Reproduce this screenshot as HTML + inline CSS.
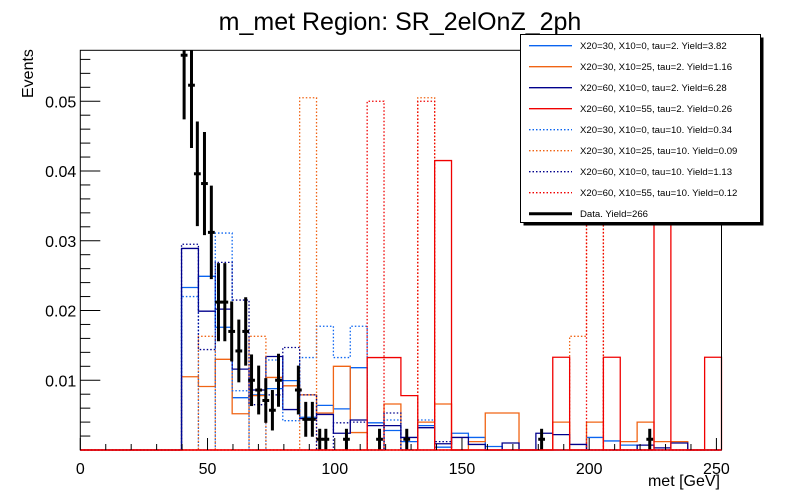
<!DOCTYPE html>
<html><head><meta charset="utf-8">
<style>
html,body{margin:0;padding:0;background:#fff;}
svg{display:block;font-family:"Liberation Sans",Arial,sans-serif;}
</style></head>
<body>
<svg id="chart" width="800" height="500" viewBox="0 0 800 500" xmlns="http://www.w3.org/2000/svg">
<rect x="0" y="0" width="800" height="500" fill="#fff"/>
<text x="400" y="30" font-size="25" text-anchor="middle">m_met Region: SR_2elOnZ_2ph</text>
<g id="plot"></g>
<g id="axes"></g>
<text x="720" y="486" font-size="16" text-anchor="end">met [GeV]</text>
<text transform="translate(33,98) rotate(-90)" font-size="16" text-anchor="start">Events</text>
<g id="legend"></g>
</svg>
<script>
// ---- data ----
const binWidth = 252/38;
const xTicks = [0,50,100,150,200,250];
const yTicks = [0.01,0.02,0.03,0.04,0.05];
const yTickLabels = ["0.01","0.02","0.03","0.04","0.05"];
function z(){return new Array(38).fill(0);}
function fill(o){const a=z();for(const k in o)a[+k]=o[k];return a;}
const blueTau2 = fill({6:0.0233,7:0.0249,8:0.0176,9:0.0075,10:0.0079,11:0.0088,12:0.00995,13:0.0047,14:0.0064,15:0.0059,16:0.0118,17:0.0039,18:0.0028,19:0.0012,20:0.0035,21:0.0004,22:0.0024,23:0.0018,24:0.0005,30:0.0018,31:0.0013,32:0.0007});
const orangeTau2 = fill({6:0.0105,7:0.0091,8:0.0130,9:0.0052,10:0.0078,11:0.0104,12:0.0092,13:0.0079,14:0.0053,15:0.0120,16:0.0025,18:0.0066,20:0.0040,21:0.0066,23:0.0012,24:0.0053,25:0.0053,28:0.0040,30:0.0040,32:0.0012,33:0.0040,34:0.0012,35:0.0012});
const navyTau2 = fill({6:0.0289,7:0.0199,8:0.0202,9:0.0116,10:0.0086,11:0.0134,12:0.0058,13:0.0045,14:0.0051,15:0.0024,16:0.0043,17:0.0035,18:0.0035,19:0.0018,20:0.0032,21:0.0009,22:0.0018,23:0.0008,25:0.0010,27:0.0024,28:0.0022,29:0.0008,33:0.0007,34:0.0003,35:0.0010});
const redTau2 = fill({17:0.01325,18:0.01325,19:0.0078,21:0.0415,28:0.0133,31:0.0133,34:0.045,37:0.0133});
const blueTau10 = fill({6:0.0220,8:0.0311,9:0.0085,11:0.0129,12:0.0042,13:0.01325,14:0.01774,15:0.01325,16:0.01774,18:0.0043,20:0.0043});
const orangeTau10 = fill({7:0.0163,10:0.0163,13:0.0505,20:0.0505,29:0.0163,30:0.050});
const navyTau10 = fill({6:0.0295,7:0.0144,8:0.0269,9:0.0215,10:0.0065,11:0.0079,12:0.0147,13:0.0079,15:0.0039,16:0.0040,18:0.0053,21:0.0012});
const redTau10 = fill({17:0.0500,20:0.0500,30:0.050});
const dataX = [40.8,43.7,46.0,48.8,51.5,54.3,56.8,59.5,62.3,65.0,67.3,70.1,72.9,75.5,77.9,85.7,88.6,91.2,94.1,96.5,104.6,117.6,128.3,181.3,223.8];
const dataY = [0.0566,0.0523,0.0396,0.0382,0.0312,0.0212,0.0212,0.0170,0.0142,0.0170,0.0100,0.0086,0.0071,0.0057,0.0100,0.0086,0.0044,0.0044,0.00154,0.00154,0.00154,0.00154,0.00154,0.00154,0.00154];
const dataErr = [0.0092,0.0090,0.0075,0.0074,0.0067,0.0056,0.0056,0.0043,0.0045,0.0049,0.0037,0.0035,0.0032,0.0029,0.0038,0.0035,0.0025,0.0025,0.0015,0.0015,0.0015,0.0015,0.0015,0.0015,0.0015];
const legendLabels = ["X20=30, X10=0, tau=2. Yield=3.82","X20=30, X10=25, tau=2. Yield=1.16","X20=60, X10=0, tau=2. Yield=6.28","X20=60, X10=55, tau=2. Yield=0.26","X20=30, X10=0, tau=10. Yield=0.34","X20=30, X10=25, tau=10. Yield=0.09","X20=60, X10=0, tau=10. Yield=1.13","X20=60, X10=55, tau=10. Yield=0.12","Data. Yield=266"];

// ---- axes ----
const X0=80.3, X1=721.5, Y0=450, YT=50.3;
const xs = v => X0 + v*(X1-X0)/252;
const ys = v => Y0 - v*6975;
const NS="http://www.w3.org/2000/svg";
function mk(tag,attrs,parent){const e=document.createElementNS(NS,tag);for(const k in attrs)e.setAttribute(k,attrs[k]);parent.appendChild(e);return e;}
const plot=document.getElementById('plot'), axes=document.getElementById('axes'), leg=document.getElementById('legend');

const series = [
 {d:blueTau2,c:"#0a64f0",dash:null,n:"blue-tau2"},
 {d:orangeTau2,c:"#f06414",dash:null,n:"orange-tau2"},
 {d:navyTau2,c:"#00008c",dash:null,n:"navy-tau2"},
 {d:blueTau10,c:"#0a64f0",dash:"1.5,2",n:"blue-tau10"},
 {d:orangeTau10,c:"#f06414",dash:"1.5,2",n:"orange-tau10"},
 {d:navyTau10,c:"#00008c",dash:"1.5,2",n:"navy-tau10"},
 {d:redTau10,c:"#f00000",dash:"1.5,2",n:"red-tau10"},
 {d:redTau2,c:"#f00000",dash:null,n:"red-tau2"}
];
for(const s of series){
  let p="M"+xs(0)+","+ys(0);
  for(let i=0;i<38;i++){
    const v=Math.min(s.d[i],0.0576);
    p+=" L"+xs(i*binWidth)+","+ys(v)+" L"+xs((i+1)*binWidth)+","+ys(v);
  }
  p+=" L"+xs(252)+","+ys(0);
  const e=mk('path',{d:p,fill:"none",stroke:s.c,"stroke-width":1.3},plot);
  if(s.dash)e.setAttribute('stroke-dasharray',s.dash);
  
  
}
for(let i=0;i<dataX.length;i++){
  const g=mk('g',{},plot);
  
  
  const x=xs(dataX[i]), y=ys(dataY[i]);
  mk('line',{x1:x,x2:x,y1:Math.max(ys(dataY[i]+dataErr[i]),YT),y2:ys(Math.max(dataY[i]-dataErr[i],0)),stroke:"#000","stroke-width":3},g);
  mk('line',{x1:xs(dataX[i]-1.33),x2:xs(dataX[i]+1.33),y1:y,y2:y,stroke:"#000","stroke-width":3},g);
}
// frame
const fr=mk('rect',{x:X0,y:YT,width:X1-X0,height:Y0-YT,fill:"none",stroke:"#000","stroke-width":1},axes);


mk('line',{x1:X0,x2:X1,y1:Y0,y2:Y0,stroke:"#f00000","stroke-width":1.5},axes);
// x ticks
for(let v=0;v<=250;v+=10){
  const major=v%50===0;
  mk('line',{x1:xs(v),x2:xs(v),y1:Y0,y2:Y0-(major?12:6),stroke:"#000","stroke-width":1},axes);
}
for(const v of xTicks){
  const t=mk('text',{x:xs(v),y:Y0+24,"font-size":16,"text-anchor":"middle"},axes);
  t.textContent=v;
  
  
}
// y ticks
for(let k=1;k<=28;k++){
  const v=k*0.002, major=k%5===0;
  mk('line',{x1:X0,x2:X0+(major?20:10),y1:ys(v),y2:ys(v),stroke:"#000","stroke-width":1},axes);
}
yTicks.forEach((v,i)=>{
  const t=mk('text',{x:X0-4,y:ys(v)+6,"font-size":16,"text-anchor":"end"},axes);
  t.textContent=yTickLabels[i];
  
  
});
// legend
mk('rect',{x:523.5,y:37.5,width:240,height:188,fill:"#000"},leg);
mk('rect',{x:520.5,y:34.5,width:240,height:188,fill:"#fff",stroke:"#000","stroke-width":1},leg);
const legStyles=[["#0a64f0",null,1.3],["#f06414",null,1.3],["#00008c",null,1.3],["#f00000",null,1.3],["#0a64f0","1.5,2",1.3],["#f06414","1.5,2",1.3],["#00008c","1.5,2",1.3],["#f00000","1.5,2",1.3],["#000",null,3]];
legendLabels.forEach((lab,i)=>{
  const g=mk('g',{},leg);
  
  
  const y=45.7+i*21;
  const st=legStyles[i];
  const l=mk('line',{x1:529,x2:572,y1:y,y2:y,stroke:st[0],"stroke-width":st[2]},g);
  if(st[1])l.setAttribute('stroke-dasharray',st[1]);
  const t=mk('text',{x:580,y:y+3.5,"font-size":9.6},g);
  t.textContent=lab;
});
</script>
</body></html>
